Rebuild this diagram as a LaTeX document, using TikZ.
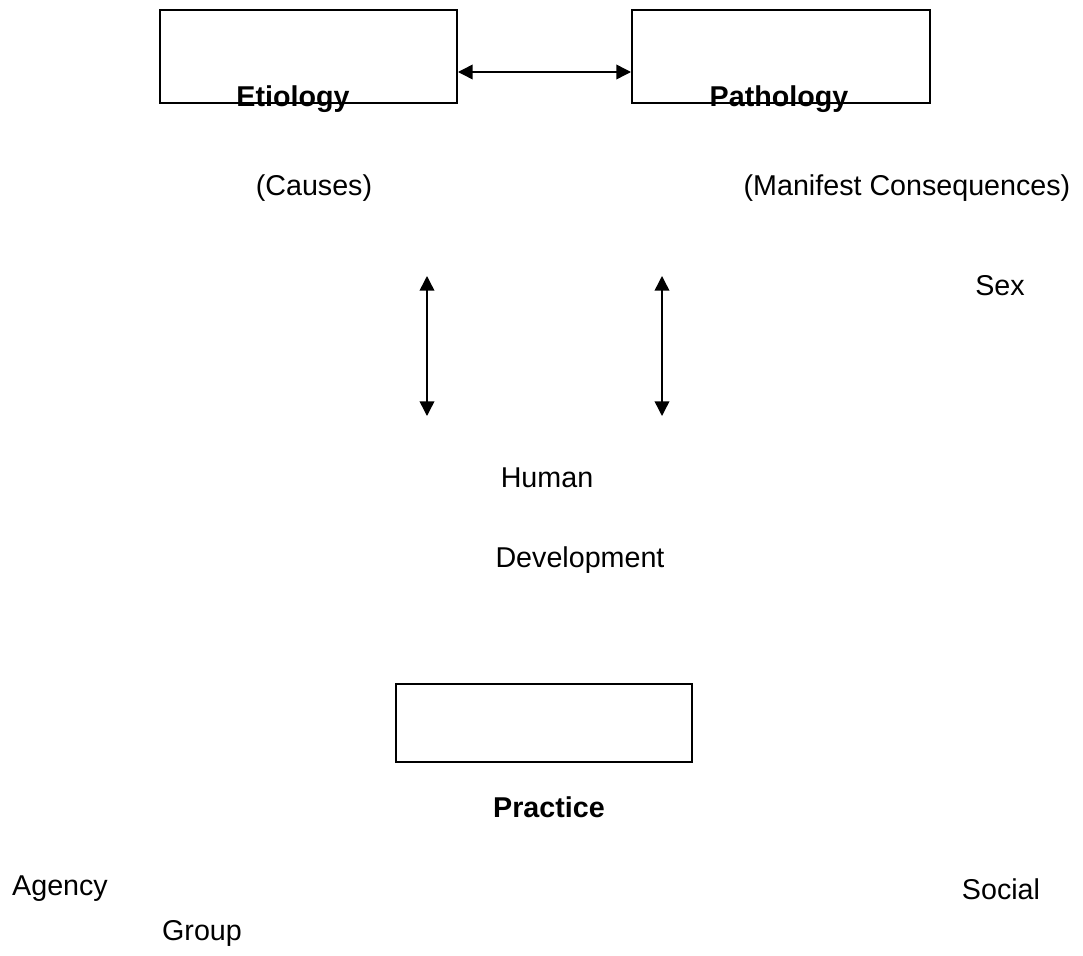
\documentclass[tikz,border=0pt]{standalone}
\usepackage{fontspec}
\setmainfont{Liberation Sans}
\usetikzlibrary{arrows.meta}
\begin{document}
\begin{tikzpicture}[x=0.75pt, y=-0.75pt, font=\fontsize{21.5}{24}\selectfont,
    box/.style={draw, line width=1.5pt, inner sep=0pt},
    link/.style={line width=1.1pt, {Triangle[length=11pt,width=11pt]}-{Triangle[length=11pt,width=11pt]}}]
      \useasboundingbox (0,0) rectangle (1083,956);

      % boxes
      \node (E) [box, minimum width=222.75pt, minimum height=69.75pt] at (308.5,56.5) {};
      \node (P) [box, minimum width=223.5pt,  minimum height=69.75pt] at (781,56.5)   {};
      \node (R) [box, minimum width=222pt,    minimum height=58.5pt]  at (544,723)    {};

      % arrow ends
      \coordinate (EP1) at (E.east |- 0,72);
      \coordinate (EP2) at (P.west |- 0,72);
      \coordinate (L1) at (427,276);
      \coordinate (L2) at (427,416);
      \coordinate (R1) at (662,276);
      \coordinate (R2) at (662,416);

      \path [link] (EP1) edge (EP2);
      \path [link] (L1) edge (L2);
      \path [link] (R1) edge (R2);

      % box titles
      \node (Et) at (293,99)  {\bfseries Etiology};
      \node (Pa) at (779,99)  {\bfseries Pathology};
      \node (Pr) at (549,807) {\bfseries Practice};

      % other labels
      \draw (314,188) node (C)  {(Causes)}
            (907,188) node (M)  {(Manifest Consequences)}
            (1000,286) node (S) {Sex}
            (547,478) node (H)  {Human}
            (580,560) node (D)  {Development}
            (60,889)  node (A)  {Agency}
            (1001,889) node (So) {Social}
            (202,933) node (G)  {Group};
\end{tikzpicture}
\end{document}
